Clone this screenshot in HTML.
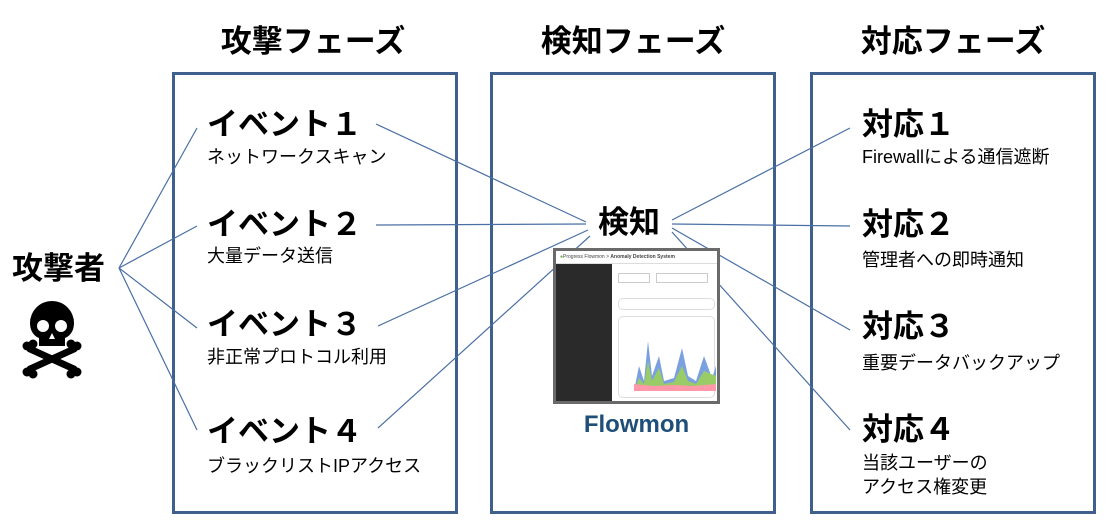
<!DOCTYPE html>
<html><head><meta charset="utf-8"><style>
body{margin:0;width:1113px;height:530px;background:#fff;position:relative;overflow:hidden;font-family:"Liberation Sans","Noto Sans CJK JP",sans-serif;color:#000}
.box{position:absolute;top:72px;height:442px;width:286px;border:3px solid #3f5f8c;box-sizing:border-box}
.h{position:absolute;top:16px;font-size:31px;font-weight:bold;width:300px;text-align:center}
.t{position:absolute;font-size:31px;font-weight:bold;white-space:nowrap;line-height:36px}
.s{position:absolute;font-size:18px;white-space:nowrap;line-height:24px}
</style></head><body>
<div class="h" style="left:163px">攻撃フェーズ</div>
<div class="h" style="left:483px">検知フェーズ</div>
<div class="h" style="left:803px">対応フェーズ</div>
<div class="box" style="left:172px"></div>
<div class="box" style="left:490px"></div>
<div class="box" style="left:810px"></div>
<svg width="1113" height="530" style="position:absolute;left:0;top:0">
<g stroke="#4a6fa5" stroke-width="1.2" fill="none">
<line x1="119" y1="268" x2="197" y2="128"/><line x1="119" y1="268" x2="197" y2="226"/>
<line x1="119" y1="268" x2="197" y2="328"/><line x1="119" y1="268" x2="197" y2="430"/>
<line x1="376" y1="124" x2="586" y2="222"/><line x1="376" y1="225" x2="586" y2="224"/>
<line x1="378" y1="326" x2="588" y2="230"/><line x1="378" y1="428" x2="590" y2="236"/>
<line x1="672" y1="220" x2="850" y2="128"/><line x1="672" y1="224" x2="850" y2="226"/>
<line x1="672" y1="228" x2="850" y2="330"/><line x1="672" y1="232" x2="850" y2="430"/>
</g>
<g transform="translate(52,335)" fill="#000">
<path d="M-22,-12 a22,22 0 1 1 44,0 c0,8 -4,13 -9,15 v8 h-26 v-8 c-5,-2 -9,-7 -9,-15z"/>
<circle cx="-9" cy="-9" r="6" fill="#fff"/><circle cx="9" cy="-9" r="6" fill="#fff"/>
<path d="M0,-2 l-3,6 h6z" fill="#fff"/>
<g stroke="#000" stroke-width="7" stroke-linecap="round"><line x1="-22" y1="14" x2="22" y2="34"/><line x1="22" y1="14" x2="-22" y2="34"/></g>
<circle cx="-25" cy="11" r="4.5"/><circle cx="-19" cy="9" r="4.5"/><circle cx="25" cy="11" r="4.5"/><circle cx="19" cy="9" r="4.5"/>
<circle cx="-25" cy="37" r="4.5"/><circle cx="-19" cy="39" r="4.5"/><circle cx="25" cy="37" r="4.5"/><circle cx="19" cy="39" r="4.5"/>
</g>
</svg>
<div class="t" style="left:12px;top:251px">攻撃者</div>
<div class="t" style="left:207px;top:107px">イベント１</div><div class="s" style="left:207px;top:145px">ネットワークスキャン</div>
<div class="t" style="left:207px;top:207px">イベント２</div><div class="s" style="left:207px;top:244px">大量データ送信</div>
<div class="t" style="left:207px;top:307px">イベント３</div><div class="s" style="left:207px;top:345px">非正常プロトコル利用</div>
<div class="t" style="left:207px;top:414px">イベント４</div><div class="s" style="left:207px;top:454px">ブラックリストIPアクセス</div>
<div class="t" style="left:598px;top:205px">検知</div>
<div style="position:absolute;left:553px;top:248px;width:167px;height:156px;background:#6a6a6a;box-sizing:border-box;padding:3px">
<div style="position:relative;width:161px;height:150px;background:#fff">
<div style="height:12px;border-bottom:1px solid #ddd;font-size:5px;line-height:12px;padding-left:4px;color:#444"><span style="color:#6a3">●</span>Progress Flowmon &gt; <b>Anomaly Detection System</b></div>
<div style="position:absolute;left:0;top:13px;width:56px;height:137px;background:#2a2a2a"></div>
<div style="position:absolute;left:62px;top:22px;width:30px;height:8px;border:1px solid #ccc"></div>
<div style="position:absolute;left:100px;top:22px;width:50px;height:8px;border:1px solid #ccc"></div>
<div style="position:absolute;left:62px;top:47px;width:95px;height:10px;border:1px solid #ddd;border-radius:5px"></div>
<div style="position:absolute;left:62px;top:65px;width:95px;height:80px;border:1px solid #ddd;border-radius:5px"></div>
<svg style="position:absolute;left:78px;top:85px" width="82" height="60"><path d="M0,55 L5,30 L10,45 L14,5 L18,40 L25,20 L30,45 L40,42 L48,12 L54,40 L62,45 L70,20 L78,42 L82,30 V55Z" fill="#7aa0e0"/><path d="M0,55 L5,42 L10,48 L14,25 L18,45 L25,32 L30,48 L40,46 L48,30 L54,45 L62,48 L70,35 L82,40 V55Z" fill="#9c6"/><path d="M0,55 L0,48 L20,50 L40,49 L60,50 L82,48 V55Z" fill="#f9a"/></svg>
</div></div>
<div style="position:absolute;left:553px;top:411px;width:167px;text-align:center;font-size:24px;font-weight:bold;color:#1f4e79">Flowmon</div>
<div class="t" style="left:862px;top:107px">対応１</div><div class="s" style="left:862px;top:145px">Firewallによる通信遮断</div>
<div class="t" style="left:862px;top:207px">対応２</div><div class="s" style="left:862px;top:248px">管理者への即時通知</div>
<div class="t" style="left:862px;top:309px">対応３</div><div class="s" style="left:862px;top:351px">重要データバックアップ</div>
<div class="t" style="left:862px;top:412px">対応４</div><div class="s" style="left:862px;top:451px">当該ユーザーの<br>アクセス権変更</div>
</body></html>
